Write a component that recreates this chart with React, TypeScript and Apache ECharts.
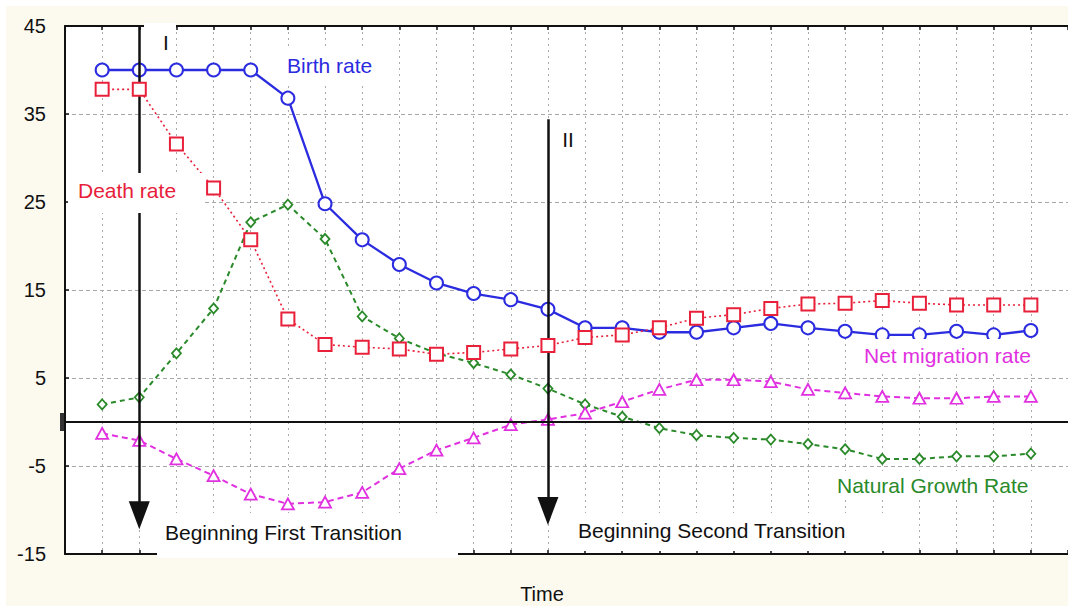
import React, { useEffect, useRef } from 'react';
import * as echarts from 'echarts';

// ---- data ----
const timeSteps = [0, 1, 2, 3, 4, 5, 6, 7, 8, 9, 10, 11, 12, 13, 14, 15, 16, 17, 18, 19, 20, 21, 22, 23, 24, 25];
const birthRate = [40, 40, 40, 40, 40, 36.8, 24.8, 20.7, 17.9, 15.8, 14.6, 13.9, 12.8, 10.7, 10.7, 10.2, 10.2, 10.7, 11.2, 10.7, 10.3, 9.9, 9.9, 10.3, 9.9, 10.4];
const deathRate = [37.8, 37.8, 31.6, 26.6, 20.7, 11.7, 8.8, 8.5, 8.3, 7.7, 7.9, 8.3, 8.7, 9.6, 9.9, 10.7, 11.8, 12.2, 12.9, 13.4, 13.5, 13.8, 13.5, 13.3, 13.3, 13.3];
const naturalGrowth = [2.0, 2.8, 7.8, 12.9, 22.7, 24.7, 20.8, 12.0, 9.5, 7.8, 6.7, 5.4, 3.8, 2.0, 0.6, -0.7, -1.5, -1.8, -2.0, -2.5, -3.1, -4.2, -4.2, -3.9, -3.9, -3.6];
const netMigration = [-1.3, -2.1, -4.2, -6.1, -8.2, -9.3, -9.1, -8.0, -5.3, -3.2, -1.8, -0.3, 0.3, 1.0, 2.3, 3.7, 4.8, 4.8, 4.6, 3.7, 3.3, 2.9, 2.7, 2.7, 2.9, 2.9];
const yTickLabels = ['-15', '-5', '5', '15', '25', '35', '45'];
// transitions: time index, arrow start value, arrow-head centre value
const transitionIndex = [1, 12];
const transitionStart = [45, 34.4];
const transitionHead = [-10.6, -10.1];

const FONT = '"Liberation Sans", Arial, Helvetica, sans-serif';
const BLUE = '#2b2be0';
const RED = '#e8203a';
const GREEN = '#2a8a2a';
const MAGENTA = '#e030e0';
const GRIDC = '#a9a9a9';

const pairs = (arr: number[]) => arr.map((v, i) => [timeSteps[i], v]);

export default function App() {
  const ref = useRef<HTMLDivElement>(null);
  useEffect(() => {
    if (!ref.current) return;
    const chart = echarts.init(ref.current, undefined, { renderer: 'svg' });

    const text = (t: string, x: number, y: number, color: string, size: number, align = 'left') => ({
      type: 'text',
      z: 110,
      silent: true,
      style: {
        text: t, x, y, fill: color,
        font: `${size}px ${FONT}`,
        align, textAlign: align,
        verticalAlign: 'middle', textVerticalAlign: 'middle',
      },
    });
    const cover = (x: number, y: number, w: number, h: number) => ({
      type: 'rect', z: 100, silent: true,
      shape: { x, y, width: w, height: h },
      style: { fill: '#ffffff' },
    });

    const arrowLines = transitionIndex.map((ti, k) => [
      { coord: [ti, transitionStart[k]], symbol: 'none' },
      { coord: [ti, transitionHead[k]], symbol: 'triangle', symbolSize: [21, 28] },
    ]);

    const axisLineStyle = { color: '#111', width: 2 };
    const option: any = {
      animation: false,
      backgroundColor: 'transparent',
      tooltip: { show: false },
      grid: { left: 65, top: 26, width: 1006, bottom: 52, show: true, backgroundColor: '#ffffff', borderWidth: 0, borderColor: 'transparent' },
      xAxis: [
        {
          type: 'value', position: 'bottom', min: -1, max: 26, interval: 1,
          axisLine: { show: true, onZero: false, lineStyle: axisLineStyle },
          axisTick: { show: true, inside: true, length: 4, lineStyle: { color: '#111', width: 1.5 } },
          axisLabel: { show: false },
          splitLine: { show: true, lineStyle: { color: GRIDC, width: 1, type: [2, 4] } },
        },
        {
          type: 'value', position: 'top', min: -1, max: 26, interval: 1,
          axisLine: { show: true, onZero: false, lineStyle: axisLineStyle },
          axisTick: { show: true, inside: true, length: 4, lineStyle: { color: '#111', width: 1.5 } },
          axisLabel: { show: false },
          splitLine: { show: false },
        },
      ],
      yAxis: [
        {
          type: 'value', min: 0, max: 60, interval: 10, position: 'left',
          axisLine: { show: true, onZero: false, lineStyle: axisLineStyle },
          axisTick: { show: true, inside: true, length: 4, lineStyle: { color: '#111', width: 1.5 } },
          axisLabel: {
            formatter: (v: number) => yTickLabels[Math.round(v / 10)],
            fontSize: 20, color: '#111', margin: 19, fontFamily: FONT,
          },
          splitLine: { show: true, lineStyle: { color: GRIDC, width: 1, type: [4, 3] } },
        },
        { type: 'value', min: -15, max: 45, show: false, splitLine: { show: false } },
      ],
      series: [
        {
          name: 'Birth rate', type: 'line', xAxisIndex: 0, yAxisIndex: 1, z: 3,
          data: pairs(birthRate),
          color: BLUE,
          lineStyle: { color: BLUE, width: 2.3, type: 'solid' },
          symbol: 'circle', symbolSize: 13, showAllSymbol: true,
          itemStyle: { color: '#ffffff', borderColor: BLUE, borderWidth: 2 },
          markLine: {
            silent: true, symbol: ['none', 'none'], label: { show: false },
            lineStyle: { color: '#111', width: 2, type: 'solid' },
            data: [{ yAxis: 0 }],
          },
        },
        {
          name: 'Natural Growth Rate', type: 'line', xAxisIndex: 0, yAxisIndex: 1, z: 4,
          data: pairs(naturalGrowth),
          color: GREEN,
          lineStyle: { color: GREEN, width: 2, type: [5, 4] },
          symbol: 'diamond', symbolSize: [9, 10], showAllSymbol: true,
          itemStyle: { color: '#ffffff', borderColor: GREEN, borderWidth: 1.8 },
        },
        {
          name: 'Net migration rate', type: 'line', xAxisIndex: 0, yAxisIndex: 1, z: 4,
          data: pairs(netMigration),
          color: MAGENTA,
          lineStyle: { color: MAGENTA, width: 2, type: [6, 4] },
          symbol: 'triangle', symbolSize: [12, 11], showAllSymbol: true,
          itemStyle: { color: '#ffffff', borderColor: MAGENTA, borderWidth: 1.8 },
          markLine: {
            silent: true, symbol: ['none', 'none'], label: { show: false },
            lineStyle: { color: '#111', width: 2.5, type: 'solid' },
            itemStyle: { color: '#111' },
            data: arrowLines,
          },
        },
        {
          name: 'Death rate', type: 'line', xAxisIndex: 0, yAxisIndex: 1, z: 5,
          data: pairs(deathRate),
          color: RED,
          lineStyle: { color: RED, width: 1.6, type: [2, 3] },
          symbol: 'rect', symbolSize: 13, showAllSymbol: true,
          itemStyle: { color: '#ffffff', borderColor: RED, borderWidth: 2 },
        },
      ],
      graphic: [
        cover(144, 23, 32, 6),
        cover(282, 50, 96, 32),
        cover(68, 173, 137, 40),
        cover(858, 339, 180, 31),
        cover(832, 471, 204, 29),
        cover(157, 513, 301, 45),
        cover(568, 513, 337, 38),
        { type: 'rect', z: 100, silent: true, shape: { x: 60, y: 413, width: 4, height: 18 }, style: { fill: '#333' } },
        text('Birth rate', 287, 65, BLUE, 21),
        text('Death rate', 78, 190, RED, 21),
        text('Net migration rate', 864, 355, MAGENTA, 21),
        text('Natural Growth Rate', 837, 485, GREEN, 21),
        text('Beginning First Transition', 165, 532, '#111', 21),
        text('Beginning Second Transition', 578, 530, '#111', 21),
        text('I', 163, 42, '#111', 21),
        text('II', 568, 139, '#111', 21, 'center'),
        text('Time', 542, 594, '#111', 20, 'center'),
      ],
    };
    chart.setOption(option);
    return () => chart.dispose();
  }, []);

  return (
    <div style={{ position: 'fixed', left: 0, top: 0, width: 1068, height: 606, background: '#ffffff', overflow: 'hidden' }}>
      <div style={{ position: 'absolute', left: 6, top: 6, width: 1062, height: 600, background: '#fcf9ee' }} />
      <div ref={ref} style={{ position: 'absolute', left: 0, top: 0, width: 1068, height: 606 }} />
    </div>
  );
}
